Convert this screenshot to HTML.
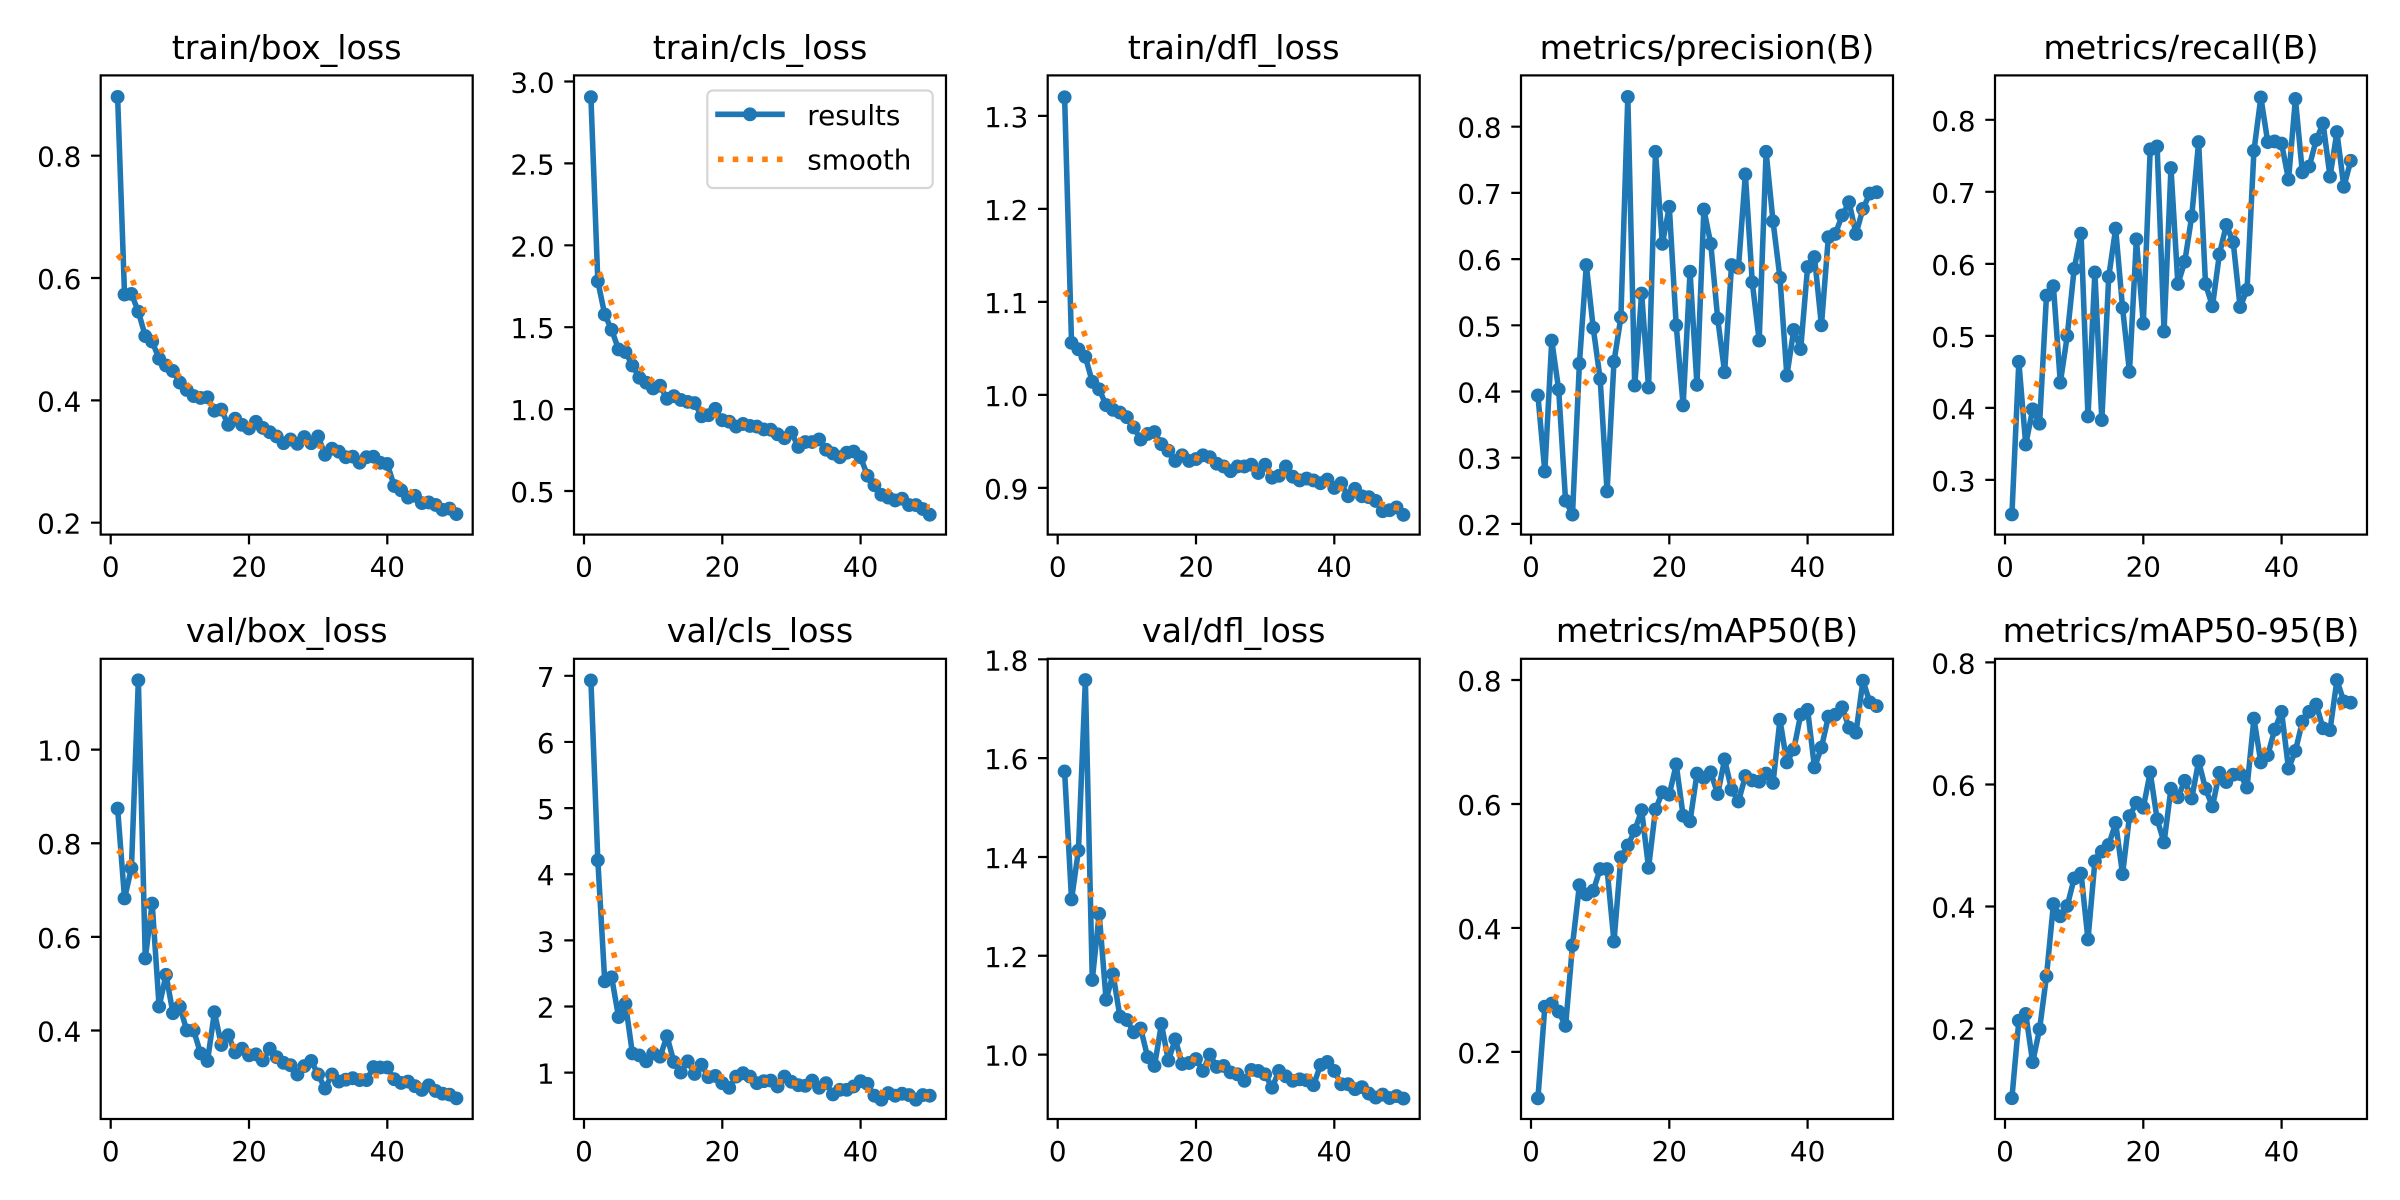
<!DOCTYPE html>
<html><head><meta charset="utf-8">
<style>
html,body{margin:0;padding:0;background:#fff;}
svg{display:block;}
text{font-family:"DejaVu Sans","Liberation Sans",sans-serif;fill:#000;}
.t{font-size:33.3px;text-anchor:middle;}
.yl{font-size:27.8px;text-anchor:end;}
.xl{font-size:27.8px;text-anchor:middle;}
.lg{font-size:27.8px;}
</style></head><body>
<svg id="s" width="2400" height="1200" viewBox="0 0 2400 1200" xmlns="http://www.w3.org/2000/svg">
<rect width="2400" height="1200" fill="#fff"/>
<g id="data"></g>
<g fill="none" stroke="#000" stroke-width="2.22">
<rect x="100.7" y="75.4" width="372" height="459.2"/>
<rect x="574" y="75.4" width="372" height="459.2"/>
<rect x="1047.7" y="75.4" width="372" height="459.2"/>
<rect x="1521" y="75.4" width="372" height="459.2"/>
<rect x="1995" y="75.4" width="372" height="459.2"/>
<rect x="100.7" y="658.8" width="372" height="460.2"/>
<rect x="574" y="658.8" width="372" height="460.2"/>
<rect x="1047.7" y="658.8" width="372" height="460.2"/>
<rect x="1521" y="658.8" width="372" height="460.2"/>
<rect x="1995" y="658.8" width="372" height="460.2"/>
</g>
<path id="ticks" fill="none" stroke="#000" stroke-width="2.22" d=""/>

<!-- legend -->
<rect x="707.3" y="90.5" width="225.4" height="97.5" rx="5.5" ry="5.5" fill="#fff" fill-opacity="0.8" stroke="#d6d6d6" stroke-width="2.2"/>
<line x1="718" y1="114.3" x2="782" y2="114.3" stroke="#1f77b4" stroke-width="5.56" stroke-linecap="square"/>
<circle cx="750" cy="114.3" r="5.56" fill="#1f77b4" stroke="#1f77b4" stroke-width="2.78"/>
<line x1="718" y1="159.3" x2="783" y2="159.3" stroke="#ff7f0e" stroke-width="5.56" stroke-dasharray="5.56 9.17"/>
<text class="lg" x="807.3" y="125">results</text>
<text class="lg" x="807.3" y="169.5">smooth</text>

<!-- titles -->
<text class="t" x="286.7" y="59">train/box_loss</text>
<text class="t" x="760" y="59">train/cls_loss</text>
<text class="t" x="1233.7" y="59">train/dfl_loss</text>
<text class="t" x="1707" y="59">metrics/precision(B)</text>
<text class="t" x="2181" y="59">metrics/recall(B)</text>
<text class="t" x="286.7" y="642">val/box_loss</text>
<text class="t" x="760" y="642">val/cls_loss</text>
<text class="t" x="1233.7" y="642">val/dfl_loss</text>
<text class="t" x="1707" y="642">metrics/mAP50(B)</text>
<text class="t" x="2181" y="642">metrics/mAP50-95(B)</text>

<!-- x tick labels -->
<text class="xl" x="110.7" y="576.6">0</text><text class="xl" x="249" y="576.6">20</text><text class="xl" x="387.3" y="576.6">40</text>
<text class="xl" x="584" y="576.6">0</text><text class="xl" x="722.3" y="576.6">20</text><text class="xl" x="860.6" y="576.6">40</text>
<text class="xl" x="1057.7" y="576.6">0</text><text class="xl" x="1196" y="576.6">20</text><text class="xl" x="1334.3" y="576.6">40</text>
<text class="xl" x="1531" y="576.6">0</text><text class="xl" x="1669.3" y="576.6">20</text><text class="xl" x="1807.6" y="576.6">40</text>
<text class="xl" x="2005" y="576.6">0</text><text class="xl" x="2143.3" y="576.6">20</text><text class="xl" x="2281.6" y="576.6">40</text>
<text class="xl" x="110.7" y="1161">0</text><text class="xl" x="249" y="1161">20</text><text class="xl" x="387.3" y="1161">40</text>
<text class="xl" x="584" y="1161">0</text><text class="xl" x="722.3" y="1161">20</text><text class="xl" x="860.6" y="1161">40</text>
<text class="xl" x="1057.7" y="1161">0</text><text class="xl" x="1196" y="1161">20</text><text class="xl" x="1334.3" y="1161">40</text>
<text class="xl" x="1531" y="1161">0</text><text class="xl" x="1669.3" y="1161">20</text><text class="xl" x="1807.6" y="1161">40</text>
<text class="xl" x="2005" y="1161">0</text><text class="xl" x="2143.3" y="1161">20</text><text class="xl" x="2281.6" y="1161">40</text>

<!-- y tick labels -->
<text class="yl" x="81.3" y="533.7">0.2</text><text class="yl" x="81.3" y="411.4">0.4</text><text class="yl" x="81.3" y="289">0.6</text><text class="yl" x="81.3" y="166.7">0.8</text>

<text class="yl" x="554.6" y="502">0.5</text><text class="yl" x="554.6" y="420.1">1.0</text><text class="yl" x="554.6" y="338.2">1.5</text><text class="yl" x="554.6" y="256.3">2.0</text><text class="yl" x="554.6" y="174.4">2.5</text><text class="yl" x="554.6" y="92.5">3.0</text>

<text class="yl" x="1028.3" y="498.9">0.9</text><text class="yl" x="1028.3" y="405.9">1.0</text><text class="yl" x="1028.3" y="312.9">1.1</text><text class="yl" x="1028.3" y="219.9">1.2</text><text class="yl" x="1028.3" y="126.9">1.3</text>

<text class="yl" x="1501.6" y="534.9">0.2</text><text class="yl" x="1501.6" y="468.7">0.3</text><text class="yl" x="1501.6" y="402.5">0.4</text><text class="yl" x="1501.6" y="336.3">0.5</text><text class="yl" x="1501.6" y="270.1">0.6</text><text class="yl" x="1501.6" y="203.9">0.7</text><text class="yl" x="1501.6" y="137.7">0.8</text>

<text class="yl" x="1975.6" y="490.9">0.3</text><text class="yl" x="1975.6" y="418.9">0.4</text><text class="yl" x="1975.6" y="346.8">0.5</text><text class="yl" x="1975.6" y="274.8">0.6</text><text class="yl" x="1975.6" y="202.8">0.7</text><text class="yl" x="1975.6" y="130.8">0.8</text>

<text class="yl" x="81.3" y="1041.5">0.4</text><text class="yl" x="81.3" y="947.9">0.6</text><text class="yl" x="81.3" y="854.2">0.8</text><text class="yl" x="81.3" y="760.6">1.0</text>

<text class="yl" x="554.6" y="1083.6">1</text><text class="yl" x="554.6" y="1017.5">2</text><text class="yl" x="554.6" y="951.3">3</text><text class="yl" x="554.6" y="885.2">4</text><text class="yl" x="554.6" y="819.1">5</text><text class="yl" x="554.6" y="752.9">6</text><text class="yl" x="554.6" y="686.8">7</text>

<text class="yl" x="1028.3" y="1065.6">1.0</text><text class="yl" x="1028.3" y="966.8">1.2</text><text class="yl" x="1028.3" y="868">1.4</text><text class="yl" x="1028.3" y="769.1">1.6</text><text class="yl" x="1028.3" y="670.3">1.8</text>

<text class="yl" x="1501.6" y="1062.9">0.2</text><text class="yl" x="1501.6" y="938.9">0.4</text><text class="yl" x="1501.6" y="814.9">0.6</text><text class="yl" x="1501.6" y="691">0.8</text>

<text class="yl" x="1975.6" y="1039.6">0.2</text><text class="yl" x="1975.6" y="917.5">0.4</text><text class="yl" x="1975.6" y="795.5">0.6</text><text class="yl" x="1975.6" y="673.4">0.8</text>
</svg>
<script>
(function(){
var NS="http://www.w3.org/2000/svg";
var C=[
[100.7,0,0.2,522.7,611.7,[0.2,0.4,0.6,0.8],[0.896,0.573,0.574,0.545,0.505,0.496,0.468,0.457,0.448,0.429,0.417,0.407,0.404,0.405,0.383,0.385,0.360,0.370,0.360,0.354,0.365,0.355,0.348,0.341,0.330,0.336,0.329,0.340,0.330,0.341,0.311,0.321,0.316,0.307,0.308,0.298,0.307,0.308,0.298,0.296,0.260,0.253,0.241,0.244,0.232,0.233,0.229,0.221,0.223,0.214]],
[574,0,0.5,491.0,163.8,[0.5,1.0,1.5,2.0,2.5,3.0],[2.904,1.780,1.577,1.484,1.364,1.348,1.266,1.192,1.161,1.126,1.143,1.063,1.079,1.056,1.044,1.037,0.956,0.963,1.002,0.932,0.923,0.893,0.909,0.897,0.893,0.876,0.874,0.846,0.822,0.857,0.769,0.799,0.799,0.815,0.752,0.729,0.706,0.734,0.741,0.706,0.593,0.535,0.477,0.460,0.442,0.453,0.414,0.414,0.390,0.355]],
[1047.7,0,0.9,487.9,930,[0.9,1.0,1.1,1.2,1.3],[1.320,1.056,1.049,1.041,1.014,1.006,0.989,0.984,0.981,0.976,0.965,0.952,0.958,0.960,0.947,0.940,0.929,0.935,0.929,0.931,0.935,0.933,0.926,0.923,0.918,0.923,0.923,0.925,0.916,0.925,0.911,0.913,0.923,0.912,0.908,0.910,0.908,0.905,0.909,0.900,0.905,0.891,0.899,0.891,0.890,0.886,0.875,0.876,0.879,0.871]],
[1521,0,0.2,523.9,662,[0.2,0.3,0.4,0.5,0.6,0.7,0.8],[0.394,0.279,0.477,0.403,0.235,0.214,0.442,0.591,0.496,0.419,0.249,0.445,0.512,0.845,0.409,0.548,0.406,0.762,0.623,0.679,0.500,0.379,0.581,0.410,0.675,0.623,0.510,0.429,0.591,0.587,0.728,0.565,0.477,0.762,0.657,0.572,0.424,0.493,0.464,0.588,0.603,0.500,0.633,0.638,0.666,0.686,0.638,0.676,0.699,0.701]],
[1995,0,0.3,479.9,720.2,[0.3,0.4,0.5,0.6,0.7,0.8],[0.252,0.464,0.349,0.398,0.378,0.556,0.569,0.435,0.500,0.593,0.642,0.388,0.588,0.383,0.582,0.649,0.539,0.450,0.634,0.517,0.759,0.763,0.506,0.733,0.572,0.603,0.666,0.769,0.572,0.541,0.613,0.654,0.630,0.540,0.564,0.757,0.831,0.769,0.770,0.767,0.717,0.829,0.727,0.735,0.772,0.795,0.721,0.783,0.707,0.743]],
[100.7,1,0.4,1030.5,468.2,[0.4,0.6,0.8,1.0],[0.874,0.682,0.747,1.148,0.554,0.671,0.451,0.519,0.437,0.451,0.400,0.400,0.351,0.335,0.439,0.369,0.390,0.353,0.361,0.347,0.349,0.336,0.361,0.343,0.331,0.326,0.306,0.324,0.335,0.306,0.276,0.306,0.291,0.295,0.298,0.294,0.294,0.322,0.321,0.321,0.296,0.288,0.291,0.281,0.273,0.283,0.271,0.265,0.263,0.255]],
[574,1,1,1072.6,66.13,[1,2,3,4,5,6,7],[6.93,4.21,2.38,2.44,1.84,2.04,1.29,1.26,1.17,1.29,1.24,1.55,1.16,1.00,1.17,0.98,1.12,0.93,0.95,0.84,0.77,0.94,0.99,0.94,0.84,0.87,0.88,0.79,0.94,0.86,0.81,0.80,0.88,0.77,0.84,0.67,0.74,0.74,0.79,0.87,0.83,0.65,0.59,0.69,0.65,0.68,0.66,0.59,0.66,0.65]],
[1047.7,1,1.0,1054.6,494.1,[1.0,1.2,1.4,1.6,1.8],[1.573,1.314,1.413,1.758,1.151,1.285,1.111,1.163,1.077,1.070,1.045,1.053,0.995,0.977,1.062,0.988,1.031,0.981,0.983,0.991,0.967,1.000,0.975,0.977,0.964,0.960,0.947,0.969,0.967,0.960,0.933,0.967,0.956,0.947,0.950,0.948,0.938,0.979,0.985,0.967,0.940,0.940,0.930,0.934,0.921,0.913,0.919,0.912,0.916,0.911]],
[1521,1,0.2,1051.9,619.8,[0.2,0.4,0.6,0.8],[0.125,0.273,0.278,0.265,0.242,0.372,0.469,0.454,0.460,0.495,0.495,0.378,0.514,0.533,0.557,0.590,0.497,0.591,0.619,0.615,0.664,0.581,0.572,0.649,0.642,0.651,0.616,0.672,0.623,0.604,0.645,0.638,0.636,0.649,0.634,0.736,0.667,0.688,0.744,0.752,0.659,0.691,0.741,0.744,0.756,0.723,0.715,0.799,0.764,0.758]],
[1995,1,0.2,1028.6,610.3,[0.2,0.4,0.6,0.8],[0.086,0.213,0.224,0.145,0.199,0.286,0.404,0.384,0.401,0.446,0.454,0.346,0.474,0.490,0.501,0.537,0.453,0.548,0.570,0.562,0.620,0.543,0.505,0.593,0.579,0.606,0.577,0.638,0.593,0.564,0.619,0.604,0.616,0.617,0.595,0.708,0.636,0.648,0.690,0.719,0.626,0.655,0.703,0.719,0.731,0.692,0.689,0.771,0.736,0.734]]
];
var K=6.915;
function gauss(y){
  var n=y.length,sig=3,r=12,w=[],s=0,k,i;
  for(k=-r;k<=r;k++){var v=Math.exp(-0.5*k*k/(sig*sig));w.push(v);s+=v;}
  for(k=0;k<w.length;k++)w[k]/=s;
  var out=[];
  for(i=0;i<n;i++){
    var a=0;
    for(k=-r;k<=r;k++){
      var j=i+k;
      while(j<0||j>=n){ if(j<0) j=-j-1; if(j>=n) j=2*n-1-j; }
      a+=w[k+r]*y[j];
    }
    out.push(a);
  }
  return out;
}
var g=document.getElementById("data");
var td="";
for(var a=0;a<C.length;a++){
  var c=C[a],L=c[0],row=c[1],v0=c[2],p0=c[3],s=c[4],yt=c[5],d=c[6];
  var B=row?1119:534.6;
  function X(e){return L+10+e*K;}
  function Y(v){return p0-(v-v0)*s;}
  var p="",q="",i;
  for(i=0;i<d.length;i++){p+=(i?"L":"M")+X(i+1).toFixed(2)+" "+Y(d[i]).toFixed(2);}
  var sm=gauss(d);
  for(i=0;i<sm.length;i++){q+=(i?"L":"M")+X(i+1).toFixed(2)+" "+Y(sm[i]).toFixed(2);}
  var e=document.createElementNS(NS,"path");
  e.setAttribute("d",p);e.setAttribute("fill","none");e.setAttribute("stroke","#1f77b4");
  e.setAttribute("stroke-width","5.56");e.setAttribute("stroke-linejoin","round");e.setAttribute("stroke-linecap","square");
  g.appendChild(e);
  for(i=0;i<d.length;i++){
    var m=document.createElementNS(NS,"circle");
    m.setAttribute("cx",X(i+1).toFixed(2));m.setAttribute("cy",Y(d[i]).toFixed(2));
    m.setAttribute("r","5.56");m.setAttribute("fill","#1f77b4");m.setAttribute("stroke","#1f77b4");m.setAttribute("stroke-width","2.78");
    g.appendChild(m);
  }
  var f=document.createElementNS(NS,"path");
  f.setAttribute("d",q);f.setAttribute("fill","none");f.setAttribute("stroke","#ff7f0e");
  f.setAttribute("stroke-width","5.56");f.setAttribute("stroke-dasharray","5.56 9.17");f.setAttribute("stroke-linecap","butt");
  g.appendChild(f);
  for(i=0;i<3;i++){var xx=X(i*20);td+="M"+xx.toFixed(2)+" "+B+"V"+(B+9.72).toFixed(2);}
  for(i=0;i<yt.length;i++){var yy=Y(yt[i]);td+="M"+(L-9.72).toFixed(2)+" "+yy.toFixed(2)+"H"+L;}
}
document.getElementById("ticks").setAttribute("d",td);
})();
</script>
</body></html>
